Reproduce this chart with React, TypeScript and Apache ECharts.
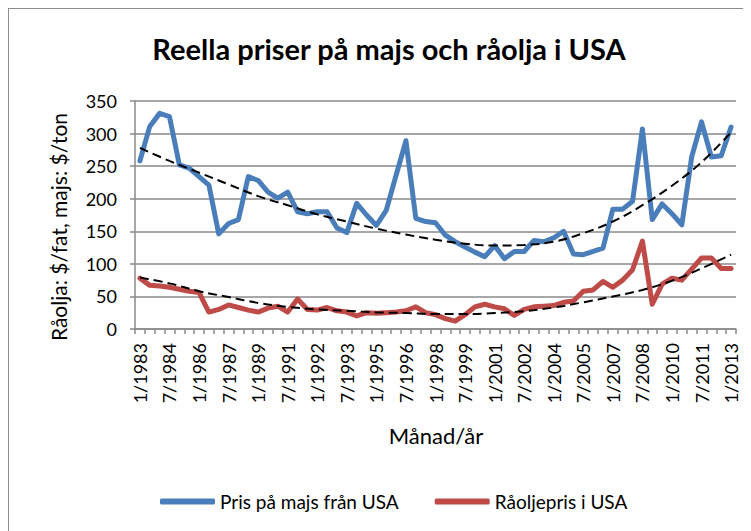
import React, { useEffect, useRef } from "react";
import * as echarts from "echarts";

const categories: string[] = [
  "1/1983", "7/1983", "1/1984", "7/1984", "1/1985", "7/1985", "1/1986", "7/1986",
  "1/1987", "7/1987", "1/1988", "7/1988", "1/1989", "7/1989", "1/1990", "7/1991",
  "1/1991", "7/1991", "1/1992", "7/1992", "1/1993", "7/1993", "1/1994", "7/1994",
  "1/1995", "7/1995", "1/1996", "7/1996", "1/1997", "7/1997", "1/1998", "7/1998",
  "1/1999", "7/1999", "1/2000", "7/2000", "1/2001", "7/2001", "1/2002", "7/2002",
  "1/2003", "7/2003", "1/2004", "7/2004", "1/2005", "7/2005", "1/2006", "7/2006",
  "1/2007", "7/2007", "1/2008", "7/2008", "1/2009", "7/2009", "1/2010", "7/2010",
  "1/2011", "7/2011", "1/2012", "7/2012", "1/2013",
];

const cornPrice: number[] = [
  258, 311, 331, 326, 252, 247, 234, 221, 146, 162,
  168, 234, 228, 210, 201, 210, 180, 177, 180, 180,
  155, 148, 193, 175, 159, 182, 236, 289, 170, 165,
  163, 144, 134, 126, 118, 111, 128, 108, 119, 119,
  136, 134, 140, 150, 115, 114, 119, 124, 184, 184,
  196, 307, 168, 192, 177, 160, 264, 318, 264, 266,
  310,
];

const oilPrice: number[] = [
  78, 67, 66, 64, 61, 58, 56, 26, 30, 37,
  33, 29, 26, 32, 35, 26, 46, 30, 29, 33,
  28, 26, 20, 25, 24, 25, 26, 28, 34, 25,
  22, 16, 12, 22, 34, 38, 34, 31, 21, 30,
  34, 35, 36, 41, 43, 58, 60, 73, 64, 75,
  91, 135, 38, 69, 78, 75, 92, 109, 109, 93,
  93,
];

// dashed trendlines at every labelled category
const trendIndex: number[] = [0, 3, 6, 9, 12, 15, 18, 21, 24, 27, 30, 33, 36, 39, 42, 45, 48, 51, 54, 57, 60];
const cornTrend: number[] = [278, 258, 240, 222, 204, 190, 176, 165, 154, 145, 137, 131, 128, 129, 134, 147, 165, 190, 220, 256, 302];
const oilTrend: number[] = [79, 70, 58, 49, 40, 34, 30, 28, 25.5, 24.5, 23, 23, 24.5, 27.5, 33, 41, 50, 60, 74, 93, 114];

const seriesNames = ["Pris på majs från USA", "Råoljepris i USA"];
const titleText = "Reella priser på majs och råolja i USA";
const yAxisTitle = "Råolja: $/fat, majs: $/ton";
const xAxisTitle = "Månad/år";
const yMin = 0;
const yMax = 350;
const yInterval = 50;

const FONT = "Lato, 'Noto Sans', sans-serif";
const GRID_COLOR = "#8a8a8a";

export default function App() {
  const ref = useRef<HTMLDivElement>(null);
  useEffect(() => {
    if (!ref.current) return;
    const chart = echarts.init(ref.current, undefined, { renderer: "svg" });
    const cornTrendData = trendIndex.map((idx, k) => [idx, cornTrend[k]]);
    const oilTrendData = trendIndex.map((idx, k) => [idx, oilTrend[k]]);
    chart.setOption({
      animation: false,
      backgroundColor: "#ffffff",
      textStyle: { fontFamily: FONT },
      grid: { left: 127, top: 93, width: 601, height: 228, containLabel: false },
      graphic: [
        { type: "line", shape: { x1: 0.5, y1: 0, x2: 0.5, y2: 523 }, style: { stroke: "#8e8e8e", lineWidth: 1 }, silent: true },
        { type: "line", shape: { x1: 0, y1: 0.5, x2: 743, y2: 0.5 }, style: { stroke: "#8e8e8e", lineWidth: 1 }, silent: true },
        {
          type: "text", x: 381, y: 40,
          style: { text: titleText, font: `bold 29px ${FONT}`, fill: "#000", textAlign: "center", textVerticalAlign: "middle" },
        },
        {
          type: "text", x: 50, y: 219, rotation: Math.PI / 2,
          style: { text: yAxisTitle, font: `21px ${FONT}`, fill: "#000", textAlign: "center", textVerticalAlign: "middle" },
        },
        {
          type: "text", x: 428, y: 427,
          style: { text: xAxisTitle, font: `22px ${FONT}`, fill: "#000", textAlign: "center", textVerticalAlign: "middle" },
        },
      ],
      legend: {
        data: seriesNames,
        left: 147,
        top: 479,
        icon: "roundRect",
        itemWidth: 55,
        itemHeight: 6,
        itemGap: 36,
        textStyle: { fontSize: 19, color: "#000", fontFamily: FONT },
        selectedMode: false,
      },
      xAxis: {
        type: "category",
        data: categories,
        boundaryGap: true,
        axisLine: { show: true, lineStyle: { color: GRID_COLOR, width: 1.5 } },
        axisTick: { show: true, interval: 0, length: 5, lineStyle: { color: GRID_COLOR, width: 1.5 } },
        axisLabel: { interval: 2, rotate: 90, margin: 14, fontSize: 18, color: "#000", fontFamily: FONT },
        splitLine: { show: false },
      },
      yAxis: {
        type: "value",
        min: yMin,
        max: yMax,
        interval: yInterval,
        axisLine: { show: true, lineStyle: { color: GRID_COLOR, width: 1.5 } },
        axisTick: { show: true, length: 5, lineStyle: { color: GRID_COLOR, width: 1.5 } },
        axisLabel: { margin: 18, fontSize: 18, color: "#000", fontFamily: FONT },
        splitLine: { show: true, lineStyle: { color: GRID_COLOR, width: 1.5 } },
      },
      series: [
        {
          name: seriesNames[0], type: "line", data: cornPrice, symbol: "none", silent: true,
          itemStyle: { color: "#4A7EBB" },
          lineStyle: { color: "#4A7EBB", width: 5, cap: "round", join: "round" },
        },
        {
          name: seriesNames[1], type: "line", data: oilPrice, symbol: "none", silent: true,
          itemStyle: { color: "#BE4B48" },
          lineStyle: { color: "#BE4B48", width: 5, cap: "round", join: "round" },
        },
        {
          name: "trend1", type: "line", data: cornTrendData, symbol: "none", silent: true, smooth: 0.4,
          lineStyle: { color: "#000", width: 2, type: [9, 5] },
        },
        {
          name: "trend2", type: "line", data: oilTrendData, symbol: "none", silent: true, smooth: 0.4,
          lineStyle: { color: "#000", width: 2, type: [9, 5] },
        },
      ],
    });
    return () => chart.dispose();
  }, []);
  return <div ref={ref} style={{ width: 743, height: 523 }} />;
}
